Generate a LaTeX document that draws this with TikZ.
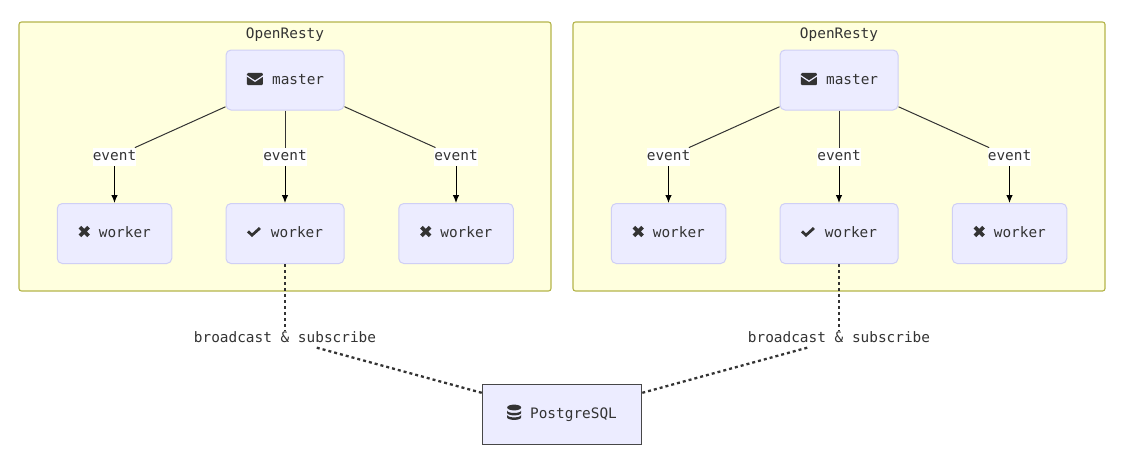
\documentclass[tikz,border=0pt]{standalone}
\usepackage{fontspec}
\setmainfont{DejaVu Sans Mono}
\usepackage{tikz}
\usetikzlibrary{arrows.meta}
\definecolor{groupfill}{HTML}{FFFFDE}
\definecolor{groupline}{HTML}{B4B44A}
\definecolor{boxfill}{HTML}{ECECFF}
\definecolor{boxline}{HTML}{CFCFF5}
\definecolor{ink}{HTML}{333333}
\tikzstyle{group} = [rectangle, rounded corners=2.5pt, minimum width=532pt, minimum height=269pt, fill=groupfill, draw=groupline, line width=1.1pt]
\tikzstyle{proc} = [rectangle, rounded corners=5pt, minimum height=60pt, fill=boxfill, draw=boxline, line width=1pt, text=ink, inner sep=0pt, text height=11pt, text depth=4pt]
\tikzstyle{wide} = [proc, minimum width=118pt]
\tikzstyle{slim} = [proc, minimum width=114.5pt]
\tikzstyle{store} = [proc, rounded corners=0pt, minimum width=159pt, draw=ink!90, line width=1.2pt]
\tikzstyle{title} = [text=ink, inner sep=0pt, text height=11pt, text depth=4pt]
\tikzstyle{edgetext} = [text=ink, fill=white, inner xsep=0pt, inner ysep=1.5pt, text height=11pt, text depth=4pt]
\tikzstyle{synctext} = [edgetext, inner ysep=1pt]
\tikzstyle{link} = [draw=ink, line width=1pt]
\tikzstyle{feed} = [link, -{Latex[length=8pt,width=6.5pt]}, draw=black]
\tikzstyle{sync} = [draw=ink, line width=2.3pt, dash pattern=on 3pt off 3pt]
\tikzstyle{icon} = [x=1pt, y=1pt, sharp corners]
\newcommand{\mailicon}{\smash{\tikz[icon,baseline=1pt]{\fill[ink,rounded corners=1.2pt] (0,0) rectangle (16,12.3);\draw[boxfill,line width=1.2pt] (-0.5,9.6) -- (8,4) -- (16.5,9.6);}}}
\newcommand{\crossicon}{\smash{\tikz[icon,baseline=0pt]{\draw[ink,line width=3.6pt] (1.2,1.2) -- (9.8,9.8) (1.2,9.8) -- (9.8,1.2);}}}
\newcommand{\checkicon}{\smash{\tikz[icon,baseline=0pt]{\fill[ink] (0,4.6) -- (2,6.6) -- (5,3.6) -- (12,10) -- (14,8) -- (5,0) -- cycle;}}}
\newcommand{\dbicon}{\smash{\tikz[icon,baseline=1.7pt]{\fill[ink] (0,2.5) arc[start angle=180,end angle=360,x radius=7,y radius=2.5] -- (14,5) arc[start angle=360,end angle=180,x radius=7,y radius=2.5] -- cycle;\fill[ink] (0,7) arc[start angle=180,end angle=360,x radius=7,y radius=2.5] -- (14,9.4) arc[start angle=360,end angle=180,x radius=7,y radius=2.5] -- cycle;\fill[ink] (7,12.4) ellipse[x radius=7,y radius=2.9];}}}

\begin{document}
\begin{tikzpicture}[x=1pt,y=-1pt,font=\fontsize{14.4}{17}\selectfont]
\useasboundingbox (0,0) rectangle (1125,458);
\node[group] (groupa) at (285,156.5) {};
\node[group] (groupb) at (839,156.5) {};
\node[title] (titlea) at (285,34.5) {OpenResty};
\node[title] (titleb) at (839,34.5) {OpenResty};

\node[wide] (mastera) at (285,80) {\raisebox{-0.7pt}{\mailicon\hspace{8pt}master}};
\node[slim] (workeraa) at (114.5,233.5) {\crossicon\hspace{8.5pt}worker};
\node[wide] (workerab) at (285,233.5) {\checkicon\hspace{10pt}worker};
\node[slim] (workerac) at (456,233.5) {\crossicon\hspace{8.5pt}worker};
\node[edgetext] (eventaa) at (114.5,156.8) {event};
\node[edgetext] (eventab) at (285,156.8) {event};
\node[edgetext] (eventac) at (456,156.8) {event};

\node[wide] (masterb) at (839,80) {\raisebox{-0.7pt}{\mailicon\hspace{8pt}master}};
\node[slim] (workerba) at (668.5,233.5) {\crossicon\hspace{8.5pt}worker};
\node[wide] (workerbb) at (839,233.5) {\checkicon\hspace{10pt}worker};
\node[slim] (workerbc) at (1009.5,233.5) {\crossicon\hspace{8.5pt}worker};
\node[edgetext] (eventba) at (668.5,156.8) {event};
\node[edgetext] (eventbb) at (839,156.8) {event};
\node[edgetext] (eventbc) at (1009.5,156.8) {event};

\node[store] (postgres) at (562,414.7) {\dbicon\hspace{9pt}PostgreSQL};
\node[synctext] (synca) at (285,339) {broadcast \& subscribe};
\node[synctext] (syncb) at (839,339) {broadcast \& subscribe};

\draw[link] (mastera) -- (eventaa);
\draw[link] (mastera) -- (eventab);
\draw[link] (mastera) -- (eventac);
\draw[feed] (eventaa) -- (workeraa);
\draw[feed] (eventab) -- (workerab);
\draw[feed] (eventac) -- (workerac);

\draw[link] (masterb) -- (eventba);
\draw[link] (masterb) -- (eventbb);
\draw[link] (masterb) -- (eventbc);
\draw[feed] (eventba) -- (workerba);
\draw[feed] (eventbb) -- (workerbb);
\draw[feed] (eventbc) -- (workerbc);

\draw[sync] (workerab) -- (synca);
\draw[sync] (synca) -- (postgres);
\draw[sync] (workerbb) -- (syncb);
\draw[sync] (syncb) -- (postgres);
\end{tikzpicture}
\end{document}
